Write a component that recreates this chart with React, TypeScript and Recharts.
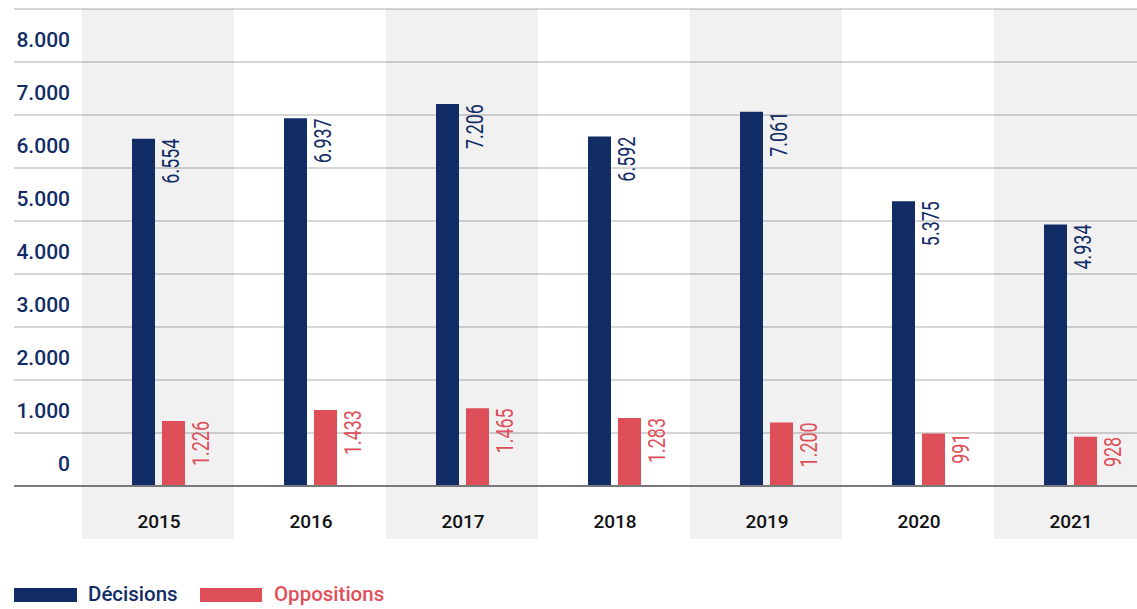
import React from "react";
import { BarChart, Bar, XAxis, YAxis, CartesianGrid, ReferenceArea, LabelList } from "recharts";

const years = ["2015", "2016", "2017", "2018", "2019", "2020", "2021"];
const decisions = [6554, 6937, 7206, 6592, 7061, 5375, 4934];
const oppositions = [1226, 1433, 1465, 1283, 1200, 991, 928];
const yTicks = [0, 1000, 2000, 3000, 4000, 5000, 6000, 7000, 8000, 9000];
const shadedYears = ["2015", "2017", "2019", "2021"];

const NAVY = "#122c66";
const RED = "#df4f5a";
const FONT = "Roboto, 'Noto Sans', sans-serif";

const data = years.map((y, i) => ({ year: y, decisions: decisions[i], oppositions: oppositions[i] }));

const fmt = (v: number) => String(v).replace(/\B(?=(\d{3})+(?!\d))/g, ".");

const YTick = (props: any) => {
  const { y, payload } = props;
  const v = payload.value;
  return (
    <g>
      <line x1={14} x2={82} y1={y} y2={y} stroke={v === 0 ? "#7a7a7a" : "#c9c9c9"} strokeWidth={v === 0 ? 2 : 1.3} />
      {v < 9000 && (
        <text x={70} y={y - 15} textAnchor="end" fill={NAVY} fontSize={21} fontFamily={FONT} fontWeight={500}>
          {fmt(v)}
        </text>
      )}
    </g>
  );
};

const XTick = (props: any) => {
  const { x, y, payload } = props;
  return (
    <text x={x + 1} y={y + 34} textAnchor="middle" fill="#111" fontSize={19} fontFamily={FONT} fontWeight={500}>
      {payload.value}
    </text>
  );
};

const makeLabel = (color: string) => (props: any) => {
  const { x, y, width, value } = props;
  const ax = x + width + 24;
  return (
    <text
      transform={`translate(${ax},${y}) rotate(-90) scale(0.78,1)`}
      x={0}
      y={0}
      textAnchor="end"
      fill={color}
      fontSize={23}
      fontFamily={FONT}
    >
      {fmt(value)}
    </text>
  );
};

export default function App() {
  return (
    <div style={{ position: "absolute", left: 0, top: 0, width: 1137, height: 609, overflow: "hidden", background: "#fff" }}>
      <BarChart
        width={1150}
        height={609}
        data={data}
        margin={{ top: 9, right: 4, left: 14, bottom: 71 }}
        barSize={23}
        barGap={7}
      >
        {shadedYears.map((yr) => (
          <ReferenceArea
            key={yr}
            x1={yr}
            x2={yr}
            y1={-1000}
            y2={9000}
            ifOverflow="visible"
            fill="#000"
            fillOpacity={0.055}
            stroke="none"
          />
        ))}
        <CartesianGrid vertical={false} stroke="#c9c9c9" strokeWidth={1.3} />
        <XAxis
          dataKey="year"
          height={52}
          tickLine={false}
          axisLine={{ stroke: "#7a7a7a", strokeWidth: 2 }}
          tick={<XTick />}
          interval={0}
        />
        <YAxis
          width={68}
          domain={[0, 9000]}
          ticks={yTicks}
          axisLine={false}
          tickLine={false}
          tick={<YTick />}
          interval={0}
        />
        <Bar dataKey="decisions" fill={NAVY} isAnimationActive={false}>
          <LabelList dataKey="decisions" content={makeLabel(NAVY)} />
        </Bar>
        <Bar dataKey="oppositions" fill={RED} isAnimationActive={false}>
          <LabelList dataKey="oppositions" content={makeLabel(RED)} />
        </Bar>
      </BarChart>
      <div style={{ position: "absolute", left: 14, top: 588, width: 63, height: 14, background: NAVY }} />
      <div style={{ position: "absolute", left: 88, top: 582, fontFamily: FONT, fontSize: 20.5, color: NAVY, lineHeight: "24px", fontWeight: 500 }}>
        Décisions
      </div>
      <div style={{ position: "absolute", left: 200, top: 588, width: 62, height: 14, background: RED }} />
      <div style={{ position: "absolute", left: 274, top: 582, fontFamily: FONT, fontSize: 20.5, color: RED, lineHeight: "24px", fontWeight: 500 }}>
        Oppositions
      </div>
    </div>
  );
}
